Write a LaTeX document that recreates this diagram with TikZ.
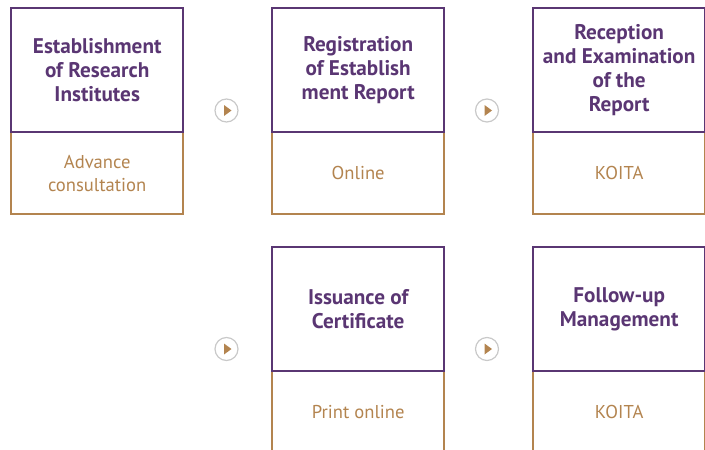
\documentclass[tikz,border=0pt]{standalone}
\usepackage{fontspec}
\setmainfont{PT Sans}
\definecolor{purp}{HTML}{5A3673}
\definecolor{tanc}{HTML}{B3844F}
\definecolor{ringc}{HTML}{C9C9C9}
\begin{document}
\begin{tikzpicture}[x=1pt,y=-1pt,
  head/.style={draw=purp,line width=2.4pt,minimum width=172pt,minimum height=124pt,inner sep=0pt,align=center,
    font=\bfseries\fontsize{21.2}{24}\selectfont,text=purp,anchor=north west},
  sub/.style={draw=tanc,line width=2.4pt,minimum width=172pt,minimum height=82pt,inner sep=0pt,align=center,
    font=\fontsize{18.6}{23}\selectfont,text=tanc,anchor=north west},
  nextmark/.style={circle,draw=ringc,line width=1.2pt,minimum size=23pt,inner sep=0pt}
]
\useasboundingbox (0,0) rectangle (705,450);
% row 1
\node[sub] (s1) at (10,131) {Advance\\consultation};
\node[head] (h1) at (10,7) {Establishment\\of Research\\Institutes};
\node[sub] (s2) at (271,131) {Online};
\node[head] (h2) at (271,7) {Registration\\of Establish\\ment Report};
\node[sub] (s3) at (532,131) {KOITA};
\node[head] (h3) at (532,7) {Reception\\and Examination\\of the\\Report};
% row 2
\node[sub] (s4) at (271,370) {Print online};
\node[head] (h4) at (271,246) {Issuance of\\Certificate};
\node[sub] (s5) at (532,370) {KOITA};
\node[head] (h5) at (532,246) {Follow-up\\Management};
% arrow marks
\foreach \n/\x/\y in {a1/226.5/110.5, a2/487/110.5, a3/226.5/349, a4/487/349}{
  \node[nextmark] (\n) at (\x,\y) {};
  \fill[tanc] ([shift={(-2.5,-5.5)}]\n.center) -- ++(7.5,5.5) -- ++(-7.5,5.5) -- cycle;
}
\end{tikzpicture}
\end{document}
